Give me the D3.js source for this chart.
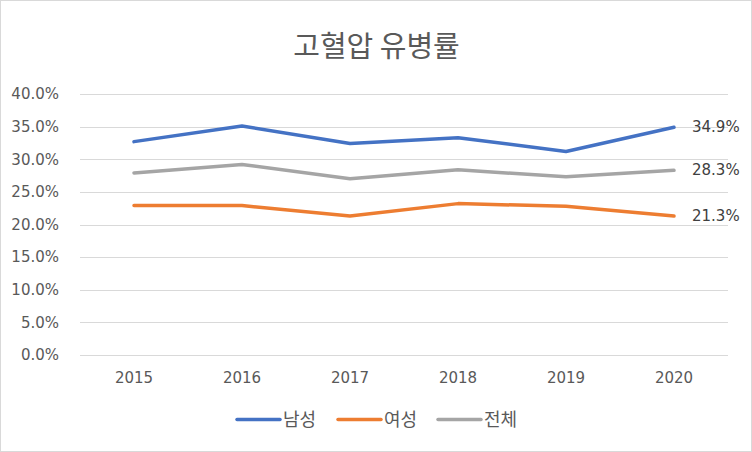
<!DOCTYPE html>
<html>
<head>
<meta charset="utf-8">
<script src="https://cdn.jsdelivr.net/npm/d3@7"></script>
<style>
  body { margin: 0; background: #fff; }
  svg { display: block; font-family: "Noto Sans CJK KR", "Noto Sans", sans-serif; }
</style>
</head>
<body>
<svg id="chart"></svg>
<script>
const years = ["2015", "2016", "2017", "2018", "2019", "2020"];
const male = [32.7, 35.1, 32.4, 33.3, 31.2, 34.9];
const female = [22.9, 22.9, 21.3, 23.2, 22.8, 21.3];
const total = [27.9, 29.2, 27.0, 28.4, 27.3, 28.3];
const seriesNames = ["남성", "여성", "전체"];
const yTicks = [0, 5, 10, 15, 20, 25, 30, 35, 40];

const width = 752, height = 452;
const margin = { top: 94, right: 24, bottom: 97, left: 80 };
const colors = ["#4472c4", "#ed7d31", "#a5a5a5"];
const series = [male, female, total];
const numFont = '"DejaVu Sans", sans-serif';

const svg = d3.select("#chart").attr("width", width).attr("height", height);

// chart border
svg.append("rect")
  .attr("x", 0.5).attr("y", 0.5)
  .attr("width", width - 1).attr("height", height - 1)
  .attr("fill", "#fff").attr("stroke", "#d9d9d9");

const x = d3.scaleBand().domain(years).range([margin.left, width - margin.right]);
const y = d3.scaleLinear().domain([0, 40]).range([height - margin.bottom, margin.top]);

// title
svg.append("text")
  .attr("x", width / 2 + 0.5).attr("y", 57)
  .attr("text-anchor", "middle")
  .style("font-size", "29px").style("fill", "#595959")
  .text("고혈압 유병률");

// gridlines
svg.append("g").selectAll("line").data(yTicks).join("line")
  .attr("x1", margin.left).attr("x2", width - margin.right)
  .attr("y1", d => Math.round(y(d)) + 0.5).attr("y2", d => Math.round(y(d)) + 0.5)
  .attr("stroke", "#d9d9d9").attr("stroke-width", 1);

// y axis labels
const yAxis = svg.append("g")
  .attr("transform", `translate(${margin.left - 18},0)`)
  .call(d3.axisLeft(y).tickValues(yTicks).tickFormat(d => d.toFixed(1) + "%").tickSize(0));
yAxis.select(".domain").remove();
yAxis.selectAll("text").style("font-size", "15px").style("fill", "#595959")
  .style("font-family", numFont);

// x axis labels
const xAxis = svg.append("g")
  .attr("transform", `translate(0,${height - margin.bottom + 14})`)
  .call(d3.axisBottom(x).tickSize(0));
xAxis.select(".domain").remove();
xAxis.selectAll("text").style("font-size", "15px").style("fill", "#595959")
  .style("font-family", numFont);

// lines
const line = d3.line()
  .x((d, i) => x(years[i]) + x.bandwidth() / 2)
  .y(d => y(d));

series.forEach((vals, k) => {
  svg.append("path")
    .datum(vals)
    .attr("d", line)
    .attr("fill", "none")
    .attr("stroke", colors[k])
    .attr("stroke-width", 3.5)
    .attr("stroke-linecap", "round")
    .attr("stroke-linejoin", "round");

  // end label
  const last = vals[vals.length - 1];
  svg.append("text")
    .attr("x", x(years[years.length - 1]) + x.bandwidth() / 2 + 18)
    .attr("y", y(last) + 5)
    .style("font-size", "15px").style("fill", "#404040")
    .style("font-family", numFont)
    .text(last.toFixed(1) + "%");
});

// legend
const legendX = [237, 338, 438];
const legend = svg.append("g");
seriesNames.forEach((name, k) => {
  legend.append("line")
    .attr("x1", legendX[k]).attr("x2", legendX[k] + 43)
    .attr("y1", 419.5).attr("y2", 419.5)
    .attr("stroke", colors[k]).attr("stroke-width", 3.5)
    .attr("stroke-linecap", "round");
  legend.append("text")
    .attr("x", legendX[k] + 46).attr("y", 426)
    .style("font-size", "18px").style("fill", "#595959")
    .text(name);
});
</script>
</body>
</html>
